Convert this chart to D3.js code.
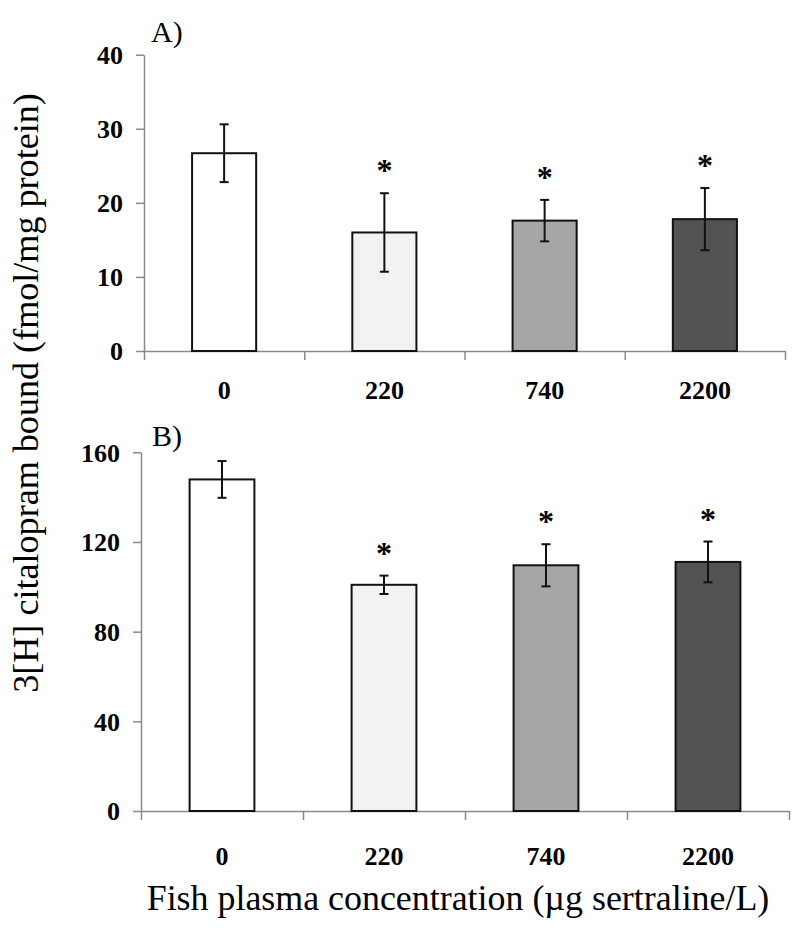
<!DOCTYPE html>
<html>
<head>
<meta charset="utf-8">
<script src="https://cdn.jsdelivr.net/npm/d3@7"></script>
<style>
  html, body { margin: 0; padding: 0; background: #fff; }
  svg { display: block; }
</style>
</head>
<body>
<svg id="chart" width="800" height="931"></svg>
<script>
// ---- data ----
const categories = ["0", "220", "740", "2200"];
const fills = ["#ffffff", "#f2f2f2", "#a6a6a6", "#535353"];

const meansA = [26.7, 16.0, 17.6, 17.8];
const errA   = [3.9, 5.3, 2.8, 4.2];
const sigA   = [false, true, true, true];
const ticksA = [0, 10, 20, 30, 40];

const meansB = [147.9, 100.9, 109.6, 111.1];
const errB   = [8.2, 4.1, 9.4, 9.1];
const sigB   = [false, true, true, true];
const ticksB = [0, 40, 80, 120, 160];

const yTitle = "3[H] citalopram bound (fmol/mg protein)";
const xTitle = "Fish plasma concentration (\u00b5g sertraline/L)";

const FONT = '"Liberation Serif"';
const svg = d3.select("#chart");
const axisColor = "#8a8a8a";

function panel(opts) {
  const { means, errs, sig, ticks, yMax, x0, x1, yTop, yBot, label, labelX, labelY, tickLabelY } = opts;
  const g = svg.append("g");
  const x = d3.scaleBand().domain(categories).range([x0, x1]).paddingInner(0.6).paddingOuter(0.3);
  const xb = d3.scaleLinear().domain([0, categories.length]).range([x0, x1]);
  const y = d3.scaleLinear().domain([0, yMax]).range([yBot, yTop]);

  // y axis
  const ya = g.append("g").attr("transform", `translate(${x0},0)`)
    .call(d3.axisLeft(y).tickValues(ticks).tickSize(8).tickSizeOuter(0).tickPadding(13));
  ya.selectAll("path, line").attr("stroke", axisColor).attr("stroke-width", 1.5);
  ya.selectAll("text").style("font-family", FONT)
    .style("font-size", "26px").style("font-weight", "bold").attr("fill", "#000")
    .attr("dy", "0.34em");

  // x axis (ticks at category boundaries)
  const xa = g.append("g").attr("transform", `translate(0,${yBot})`)
    .call(d3.axisBottom(xb).tickValues(d3.range(categories.length + 1)).tickSize(9).tickSizeOuter(0).tickFormat(""));
  xa.selectAll("path, line").attr("stroke", axisColor).attr("stroke-width", 1.5);

  // category labels
  g.selectAll("text.cat").data(categories).join("text")
    .attr("class", "cat")
    .attr("x", d => x(d) + x.bandwidth() / 2)
    .attr("y", tickLabelY)
    .attr("text-anchor", "middle")
    .style("font-family", FONT).style("font-size", "26px").style("font-weight", "bold")
    .text(d => d);

  // bars
  g.selectAll("rect.bar").data(categories).join("rect")
    .attr("class", "bar")
    .attr("x", d => x(d))
    .attr("width", x.bandwidth())
    .attr("y", (d, i) => y(means[i]))
    .attr("height", (d, i) => y(0) - y(means[i]))
    .attr("fill", (d, i) => fills[i])
    .attr("stroke", "#111")
    .attr("stroke-width", 2);

  // error bars
  const eb = g.selectAll("g.err").data(categories).join("g").attr("class", "err");
  const cx = d => x(d) + x.bandwidth() / 2;
  eb.append("line")
    .attr("x1", cx).attr("x2", cx)
    .attr("y1", (d, i) => y(means[i] + errs[i]))
    .attr("y2", (d, i) => y(means[i] - errs[i]))
    .attr("stroke", "#111").attr("stroke-width", 2);
  [1, -1].forEach(s => {
    eb.append("line")
      .attr("x1", d => cx(d) - 4.5).attr("x2", d => cx(d) + 4.5)
      .attr("y1", (d, i) => y(means[i] + s * errs[i]))
      .attr("y2", (d, i) => y(means[i] + s * errs[i]))
      .attr("stroke", "#111").attr("stroke-width", 2);
  });

  // significance stars
  g.selectAll("text.star").data(categories.filter((d, i) => sig[i])).join("text")
    .attr("class", "star")
    .attr("x", d => cx(d))
    .attr("y", d => { const i = categories.indexOf(d); return y(means[i] + errs[i]) - 27 + 15; })
    .attr("text-anchor", "middle")
    .style("font-family", FONT).style("font-size", "32px").style("font-weight", "bold")
    .text("*");

  // panel label
  g.append("text").attr("x", labelX).attr("y", labelY)
    .style("font-family", FONT).style("font-size", "30px").text(label);
}

panel({ means: meansA, errs: errA, sig: sigA, ticks: ticksA, yMax: 40,
        x0: 144, x1: 785, yTop: 54.7, yBot: 351, label: "A)", labelX: 151, labelY: 42, tickLabelY: 399 });
panel({ means: meansB, errs: errB, sig: sigB, ticks: ticksB, yMax: 160,
        x0: 141, x1: 789, yTop: 452.3, yBot: 811, label: "B)", labelX: 152, labelY: 446, tickLabelY: 865 });

// axis titles: drawn at 30px and scaled to the measured span
function titleText(transformBase, str, target) {
  const t = svg.append("text")
    .attr("text-anchor", "middle")
    .style("font-family", FONT).style("font-size", "30px")
    .text(str);
  const len = t.node().getComputedTextLength();
  const s = target / len;
  t.attr("transform", `${transformBase} scale(${s})`);
  return t;
}
titleText("translate(38,393) rotate(-90)", yTitle, 600);
titleText("translate(458,910)", xTitle, 623);
</script>
</body>
</html>
